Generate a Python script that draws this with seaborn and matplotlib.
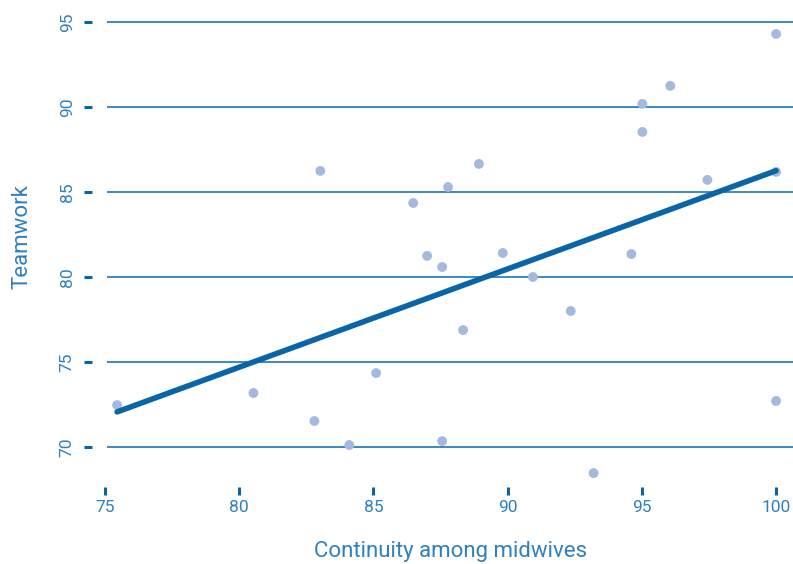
import matplotlib
matplotlib.use("Agg")
import matplotlib.pyplot as plt
import seaborn as sns
import pandas as pd

continuity = [75.45, 80.53, 82.80, 83.02, 84.10, 85.10, 86.48, 87.00, 87.56, 87.56,
              87.78, 88.34, 88.93, 89.82, 90.94, 92.35, 93.20, 94.61, 95.02, 95.02,
              96.06, 97.44, 100.0, 100.0, 100.0]
teamwork = [72.47, 73.18, 71.53, 86.24, 70.12, 74.35, 84.35, 81.24, 80.59, 70.35,
            85.29, 76.88, 86.65, 81.41, 80.00, 78.00, 68.47, 81.35, 90.18, 88.53,
            91.24, 85.71, 94.29, 86.18, 72.71]
x_ticks = [75, 80, 85, 90, 95, 100]
y_ticks = [70, 75, 80, 85, 90, 95]

df = pd.DataFrame({"Continuity among midwives": continuity, "Teamwork": teamwork})

sns.set_theme(style="white")
plt.rcParams["font.family"] = ["Roboto", "DejaVu Sans"]

TEXT = "#2f80c0"
GRID = "#2f7fbf"
LINE = "#0a64a8"
DOT = "#a3b9dd"

W, H = 793, 564
left, right, top, bottom = 105, 793, 10, 478
fig = plt.figure(figsize=(W / 100, H / 100), dpi=100)
ax = fig.add_axes([left / W, 1 - bottom / H, (right - left) / W, (bottom - top) / H])

xmax = 100.63
ax.hlines(y_ticks, 75.08, xmax, color=GRID, lw=1.3, zorder=0)

sns.regplot(data=df, x="Continuity among midwives", y="Teamwork", ax=ax, ci=None,
            scatter_kws=dict(color=DOT, s=50, edgecolor="none", alpha=1, zorder=2),
            line_kws=dict(color=LINE, lw=4, solid_capstyle="round", zorder=3))

ax.set_xlim(75, xmax)
ax.set_ylim(68.18, 95.7)
ax.set_xticks(x_ticks)
ax.set_yticks(y_ticks)

sns.despine(ax=ax, left=False, bottom=False, offset={"left": 9.4, "bottom": 6.5})
for s in ax.spines.values():
    s.set_visible(False)

ax.tick_params(axis="x", direction="out", length=5.4, width=2.2, color=LINE,
               labelcolor=TEXT, labelsize=12.5, pad=4.3, bottom=True)
ax.tick_params(axis="y", direction="out", length=5.8, width=2.2, color=LINE,
               labelcolor=TEXT, labelsize=12.5, pad=6.5, left=True)
for lab in ax.get_yticklabels():
    lab.set_rotation(90)
    lab.set_va("center")

ax.set_xlabel("Continuity among midwives", color=TEXT, fontsize=16)
ax.set_ylabel("Teamwork", color=TEXT, fontsize=16)
ax.xaxis.set_label_coords((451 - left) / (right - left), (bottom - 551) / (bottom - top))
ax.xaxis.label.set_va("center")
ax.yaxis.set_label_coords((22 - left) / (right - left), (bottom - 237) / (bottom - top))
ax.yaxis.label.set_va("center")

fig.savefig("out.png", dpi=100)
